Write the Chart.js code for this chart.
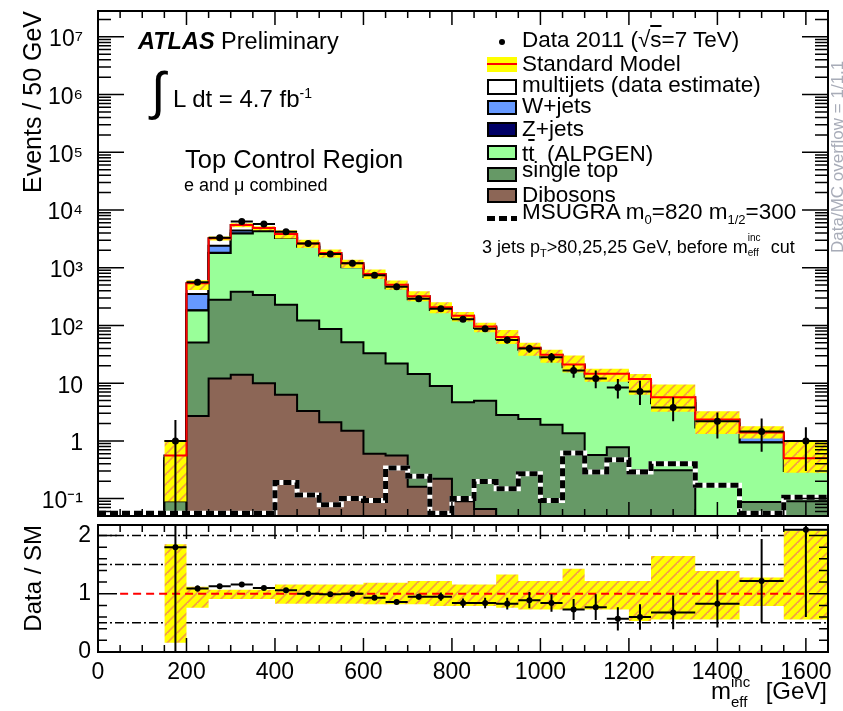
<!DOCTYPE html>
<html>
<head>
<meta charset="utf-8">
<script src="https://cdn.jsdelivr.net/npm/chart.js@4.4.1/dist/chart.umd.min.js"></script>
<style>
  body { margin: 0; background: #fff; }
  #wrap { position: relative; width: 843px; height: 711px; overflow: hidden; background: #fff;
          font-family: "Liberation Sans", Arial, sans-serif; color: #000; }
  .box { position: absolute; }
  .t { position: absolute; white-space: nowrap; line-height: 1; }
  .lg { position: absolute; left: 522px; font-size: 22.5px; white-space: nowrap; line-height: 1; }
  .sw { position: absolute; left: 487px; width: 26px; border: 2px solid #000; }
  .lo { position: relative; top: 5px; font-size: 13px; }
  .hi { position: relative; top: -9px; font-size: 13px; }
</style>
</head>
<body>
<div id="wrap">
  <div class="box" style="left:0;top:0;width:843px;height:520px"><canvas id="mainChart"></canvas></div>
  <div class="box" style="left:0;top:520px;width:843px;height:191px"><canvas id="ratioChart"></canvas></div>

  <!-- annotations -->
  <div class="t" style="left:138px;top:30px;font-size:23.5px"><b><i>ATLAS</i></b> Preliminary</div>
  <div class="t" style="left:151px;top:65px;font-size:52px">∫</div>
  <div class="t" style="left:173px;top:87px;font-size:24px">L dt = 4.7 fb<span class="hi" style="font-size:14px">-1</span></div>
  <div class="t" style="left:185px;top:147px;font-size:25.5px">Top Control Region</div>
  <div class="t" style="left:184px;top:176px;font-size:18px">e and μ combined</div>

  <!-- legend -->
  <div class="box" style="left:499px;top:39px;width:6px;height:6px;border-radius:3px;background:#000"></div>
  <div class="lg" style="top:29px">Data 2011 (√<span style="text-decoration:overline">s</span>=7 TeV)</div>
  <div class="box" style="left:487px;top:57px;width:30px;height:15px;background:#ffff00"></div>
  <div class="box" style="left:487px;top:63px;width:30px;height:2px;background:#ff0000"></div>
  <div class="lg" style="top:53px">Standard Model</div>
  <div class="sw" style="top:79px;height:12px;background:#fff"></div>
  <div class="lg" style="top:74px">multijets (data estimate)</div>
  <div class="sw" style="top:100px;height:11px;background:#6699ff"></div>
  <div class="lg" style="top:95px">W+jets</div>
  <div class="sw" style="top:122px;height:11px;background:#000066"></div>
  <div class="lg" style="top:118px">Z+jets</div>
  <div class="sw" style="top:145px;height:11px;background:#99ff99"></div>
  <div class="lg" style="top:143px">t<span style="text-decoration:overline">t</span>&nbsp; (ALPGEN)</div>
  <div class="sw" style="top:167px;height:11px;background:#669966"></div>
  <div class="lg" style="top:159px">single top</div>
  <div class="sw" style="top:188px;height:11px;background:#8c6656"></div>
  <div class="lg" style="top:184px">Dibosons</div>
  <div class="box" style="left:487px;top:216px;width:30px;height:5px;background:repeating-linear-gradient(90deg,#000 0 8px,transparent 8px 12px)"></div>
  <div class="lg" style="top:201px">MSUGRA m<span class="lo">0</span>=820 m<span class="lo">1/2</span>=300</div>
  <div class="t" style="left:482px;top:238px;font-size:18px">3 jets p<span class="lo" style="font-size:11px;top:4px">T</span>&gt;80,25,25 GeV, before m<span style="display:inline-block;position:relative;top:5px;width:18px;font-size:10px;line-height:10px;vertical-align:top"><span style="display:block;position:relative;top:-10px">inc</span><span style="display:block;position:relative;top:-5px">eff</span></span> cut</div>
  <div class="t" style="left:829px;top:253px;font-size:17px;color:#a8acb8;transform:rotate(-90deg);transform-origin:0 0">Data/MC overflow = 1/1.1</div>

  <!-- x axis title -->
  <div class="t" style="right:16px;top:679px;font-size:24px">m<span style="display:inline-block;width:28px;font-size:15px;line-height:13px;vertical-align:top"><span style="display:block;position:relative;top:-4px">inc</span><span style="display:block;position:relative;top:3px">eff</span></span> [GeV]</div>
</div>

<script>
// ---- data (Events / 50 GeV) ----
const binEdges   = [0,50,100,150,200,250,300,350,400,450,500,550,600,650,700,750,800,850,900,950,1000,1050,1100,1150,1200,1250,1350,1450,1550,1650];
const dibosons   = [0,0,0,0,2.7,12,14,10,6.3,3.3,2.1,1.5,0.6,0.56,0.16,0.22,0.09,0.066,0,0,0,0,0,0,0,0,0,0,0];
const singleTop  = [0,0,0,0.09,48,268,371,327,221,118,85,49.5,32.4,21.4,14.3,8.7,4.6,4.9,2.8,2.4,1.9,1.36,0.57,0.78,0.31,0.31,0,0.087,0.09];
const ttbar      = [0,0,0,0.36,130,1520,3515,3933,3043,2179,1533,969,657,418,270.5,176,130,85,55,35.6,26,17.6,12.4,12.2,10.2,4.2,1.7,0.85,0.21];
const zJets      = [0,0,0,0,2,10,10,8,5,3,2,1.5,1,0.6,0.4,0.3,0.2,0.15,0.1,0.1,0.05,0.04,0.03,0.02,0.02,0.02,0.01,0.01,0.01];
const wJets      = [0,0,0,0.05,168,590,490,222,225,147,78,78.5,39,29.4,14.6,9.7,6.8,3.9,2.9,1.9,2,1,1,1,0.5,0.5,0.3,0.25,0.05];
const multijets  = [0,0,0,0.06,190,850,1100,400,350,190,90,90,50,35,20,11,6,2,2,1,1,1,0.5,0.5,0.8,0.7,0.34,0.2,0.14];
const msugra     = [0,0,0,0,0,0,0,0,0.19,0.116,0.078,0.1,0.093,0.34,0.245,0,0.1,0.197,0.148,0.27,0.093,0.62,0.29,0.47,0.29,0.40,0.17,0,0.106];
const data2011   = [0,0,0,1.0,560,3300,6300,5700,4200,2640,1720,1190,740,470,290,194,128,88,56,40,28,16.5,12,8.4,7.2,3.8,2.2,1.45,1.0];
const dataErrLo  = [0,0,0,0.95,24,57,80,75,65,51,41,34,27,22,17,14,11,9.4,7.5,6.3,5.3,4.1,3.8,3.0,3.0,1.6,1.1,0.8,0.7];
const dataErrHi  = [0,0,0,1.3,24,57,80,75,65,51,41,34,27,22,17,14,11,9.4,7.5,6.3,5.3,4.1,4.5,3.4,3.8,1.9,0.9,1.0,0.73];
// ratio panel
const ratioVals  = [null,null,null,1.80,1.09,1.13,1.16,1.10,1.06,1.0,0.99,1.0,0.93,0.86,0.95,0.95,0.84,0.84,0.83,0.89,0.84,0.73,0.77,0.57,0.60,0.68,0.83,1.22,2.1];
const ratioErr   = [0,0,0,1.9,0.05,0.02,0.015,0.015,0.02,0.02,0.025,0.03,0.035,0.04,0.05,0.07,0.08,0.09,0.1,0.14,0.15,0.18,0.22,0.2,0.22,0.29,0.41,0.72,1.5];
const bandLo     = [0,0,0,0.16,0.76,0.91,0.91,0.91,0.83,0.83,0.83,0.83,0.82,0.82,0.82,0.79,0.79,0.79,0.76,0.73,0.73,0.73,0.73,0.73,0.53,0.56,0.56,0.79,0.56];
const bandHi     = [0,0,0,1.85,1.12,1.07,1.07,1.07,1.16,1.16,1.16,1.16,1.19,1.19,1.22,1.22,1.16,1.16,1.33,1.22,1.22,1.43,1.22,1.22,1.22,1.65,1.39,1.28,2.08];
// axes
const xTickLabels = [0,200,400,600,800,1000,1200,1400,1600];
const mainYTicks  = [0.1,1,10,100,1e3,1e4,1e5,1e6,1e7];
const ratioYTicks = [0,1,2];
const refLevels   = [0.5,1.5,2];
const unityRange  = [50,1600];

const FONT = "'Liberation Sans', Arial, sans-serif";
const X_MIN = 0, X_MAX = 1650;
const Y_MIN = 0.05, Y_MAX = 2.8e7;
const FLOOR = 1e-4;
const FIRST = 3; // first bin with any content

function steps(vals, from = 0) {
    const pts = [];
    for (let i = from; i < vals.length; i++) {
        const v = vals[i] > 0 ? vals[i] : FLOOR;
        pts.push({x: binEdges[i], y: v}, {x: binEdges[i + 1], y: v});
    }
    return pts;
}

function crosses(vals, lo, hi) {
    const pts = [];
    vals.forEach((v, i) => {
        if (v == null || !(v > 0)) return;
        const xc = (binEdges[i] + binEdges[i + 1]) / 2;
        pts.push({x: xc, y: Math.max(v - lo[i], FLOOR)}, {x: xc, y: v + hi[i]}, {x: xc, y: null});
        pts.push({x: binEdges[i], y: v}, {x: binEdges[i + 1], y: v}, {x: binEdges[i + 1], y: null});
    });
    return pts;
}

function centres(vals) {
    const pts = [];
    vals.forEach((v, i) => {
        if (v == null || !(v > 0)) return;
        pts.push({x: (binEdges[i] + binEdges[i + 1]) / 2, y: v});
    });
    return pts;
}

function hatch() {
    const c = document.createElement('canvas');
    c.width = 10; c.height = 10;
    const g = c.getContext('2d');
    g.fillStyle = '#ffff00';
    g.fillRect(0, 0, 10, 10);
    g.fillStyle = '#ffffff';
    g.fillRect(2, 7, 1, 1);
    g.fillRect(7, 3, 1, 1);
    g.strokeStyle = '#f4a040';
    g.lineWidth = 1.6;
    g.beginPath();
    g.moveTo(-2, 12); g.lineTo(12, -2);
    g.moveTo(-2, 2); g.lineTo(2, -2);
    g.moveTo(8, 12); g.lineTo(12, 8);
    g.stroke();
    return g.createPattern(c, 'repeat');
}

// cumulative stack, bottom layer first
const layers = [dibosons, singleTop, ttbar, zJets, wJets, multijets];
const layerColors = ['#8c6656', '#669966', '#99ff99', '#000066', '#6699ff', '#ffffff'];
const stack = [];
let running = dibosons.map(() => 0);
layers.forEach(l => {
    running = running.map((r, i) => r + l[i]);
    stack.push(running);
});
const smTotal = stack[stack.length - 1];

const xMinor = [];
for (let v = X_MIN; v <= X_MAX; v += 50) xMinor.push(v);
const logMinor = [];
for (let e = -2; e <= 7; e++) for (let m = 2; m <= 9; m++) logMinor.push(m * Math.pow(10, e));
const ratioMinor = [];
for (let k = 0; k <= 11; k++) ratioMinor.push(+(k * 0.2).toFixed(1));

// inward ticks on all four sides plus the frame
const frameTicks = {
    id: 'frameTicks',
    afterDatasetsDraw(chart, args, o) {
        const {ctx, chartArea: a, scales} = chart;
        const xs = scales.x, ys = scales.y;
        ctx.save();
        ctx.strokeStyle = '#000';
        ctx.lineWidth = 1.5;
        ctx.beginPath();
        const xt = (vals, len) => vals.forEach(v => {
            const p = xs.getPixelForValue(v);
            if (p < a.left - 0.5 || p > a.right + 0.5) return;
            ctx.moveTo(p, a.bottom); ctx.lineTo(p, a.bottom - len);
            ctx.moveTo(p, a.top); ctx.lineTo(p, a.top + len);
        });
        const yt = (vals, len) => vals.forEach(v => {
            const p = ys.getPixelForValue(v);
            if (p < a.top - 0.5 || p > a.bottom + 0.5) return;
            ctx.moveTo(a.left, p); ctx.lineTo(a.left + len, p);
            ctx.moveTo(a.right, p); ctx.lineTo(a.right - len, p);
        });
        xt(o.xMinor, o.xMinorLen);
        xt(o.xMajor, o.xMajorLen);
        yt(o.yMinor, o.yMinorLen);
        yt(o.yMajor, o.yMajorLen);
        ctx.stroke();
        ctx.lineWidth = 2;
        ctx.strokeRect(a.left, a.top, a.right - a.left, a.bottom - a.top);
        ctx.restore();
    }
};

const sup = {'-': '⁻', '0': '⁰', '1': '¹', '2': '²', '3': '³', '4': '⁴', '5': '⁵', '6': '⁶', '7': '⁷', '8': '⁸', '9': '⁹'};
function powLabel(v) {
    const e = Math.round(Math.log10(v));
    if (e === 0) return '1';
    if (e === 1) return '10';
    return '10' + String(e).split('').map(c => sup[c]).join('');
}

const hatchFill = hatch();
const line = (pts, extra) => Object.assign({data: pts, pointRadius: 0, fill: false, borderWidth: 2, borderColor: '#000'}, extra);

function createMainChart() {
    const datasets = [
        line(centres(data2011), {showLine: false, pointRadius: 3.5, pointBackgroundColor: '#000', pointBorderWidth: 0, order: 0}),
        line(crosses(data2011, dataErrLo, dataErrHi), {spanGaps: false, order: 1}),
        line(steps(msugra.map(v => Math.max(v, Y_MIN * 1.12))), {borderWidth: 5, borderDash: [8, 4], order: 2}),
        line(steps(msugra.map(v => Math.max(v, Y_MIN * 1.12))), {borderWidth: 5, borderColor: '#fff', order: 3}),
        line(steps(smTotal, FIRST), {borderColor: '#ff0000', order: 4}),
        line(steps(smTotal.map((v, i) => v * bandHi[i]), FIRST), {borderColor: 'transparent', borderWidth: 0, backgroundColor: hatchFill, fill: {target: 6}, order: 5}),
        line(steps(smTotal.map((v, i) => v * bandLo[i]), FIRST), {borderColor: 'transparent', borderWidth: 0, order: 5}),
    ];
    stack.forEach((cum, k) => {
        datasets.push(line(steps(cum), {backgroundColor: layerColors[k], fill: 'start', order: 6 + k}));
    });

    new Chart(document.querySelector('#mainChart'), {
        type: 'line',
        data: {datasets},
        plugins: [frameTicks],
        options: {
            responsive: true,
            maintainAspectRatio: false,
            animation: false,
            layout: {padding: {top: 11, right: 15, bottom: 3, left: 0}},
            plugins: {
                legend: {display: false},
                tooltip: {enabled: false},
                frameTicks: {xMajor: xTickLabels, xMinor: xMinor, xMajorLen: 14, xMinorLen: 7,
                             yMajor: mainYTicks, yMinor: logMinor, yMajorLen: 26, yMinorLen: 13}
            },
            scales: {
                x: {type: 'linear', min: X_MIN, max: X_MAX, display: false},
                y: {
                    type: 'logarithmic', min: Y_MIN, max: Y_MAX,
                    afterBuildTicks: s => { s.ticks = mainYTicks.map(v => ({value: v})); },
                    afterFit: s => { s.width = 98; s.paddingTop = 0; s.paddingBottom = 0; },
                    grid: {display: false},
                    border: {display: false},
                    ticks: {callback: v => powLabel(v), autoSkip: false, padding: 7, labelOffset: 3,
                            color: '#000', font: {family: FONT, size: 23}},
                    title: {display: true, text: 'Events / 50 GeV', align: 'end', color: '#000',
                            font: {family: FONT, size: 25}, padding: {top: 19, bottom: 0}}
                }
            }
        }
    });
}

function createRatioChart() {
    const datasets = [
        line(centres(ratioVals), {showLine: false, pointRadius: 3, pointBackgroundColor: '#000', pointBorderWidth: 0, order: 0}),
        line(crosses(ratioVals, ratioErr, ratioErr), {spanGaps: false, order: 1}),
        line(unityRange.map(x => ({x, y: 1})), {borderColor: '#ff0000', borderDash: [8, 5], order: 2}),
        line(steps(bandHi, FIRST), {borderColor: 'transparent', borderWidth: 0, backgroundColor: hatchFill, fill: {target: 4}, order: 3}),
        line(steps(bandLo, FIRST), {borderColor: 'transparent', borderWidth: 0, order: 3}),
    ];
    refLevels.forEach(r => {
        datasets.push(line([{x: X_MIN, y: r}, {x: X_MAX, y: r}], {borderWidth: 1.5, borderDash: [9, 3, 2, 3], order: 5}));
    });

    new Chart(document.querySelector('#ratioChart'), {
        type: 'line',
        data: {datasets},
        plugins: [frameTicks],
        options: {
            responsive: true,
            maintainAspectRatio: false,
            animation: false,
            layout: {padding: {top: 5, right: 15, bottom: 0, left: 0}},
            plugins: {
                legend: {display: false},
                tooltip: {enabled: false},
                frameTicks: {xMajor: xTickLabels, xMinor: xMinor, xMajorLen: 14, xMinorLen: 7,
                             yMajor: ratioYTicks, yMinor: ratioMinor, yMajorLen: 19, yMinorLen: 9}
            },
            scales: {
                x: {
                    type: 'linear', min: X_MIN, max: X_MAX,
                    afterBuildTicks: s => { s.ticks = xTickLabels.map(v => ({value: v})); },
                    afterFit: s => { s.height = 59; },
                    grid: {display: false, drawTicks: false},
                    border: {display: false},
                    ticks: {callback: v => String(v), autoSkip: false, maxRotation: 0, padding: 7,
                            color: '#000', font: {family: FONT, size: 23}}
                },
                y: {
                    type: 'linear', min: 0, max: 2.18,
                    afterBuildTicks: s => { s.ticks = ratioYTicks.map(v => ({value: v})); },
                    afterFit: s => { s.width = 98; s.paddingTop = 0; s.paddingBottom = 0; },
                    grid: {display: false, drawTicks: false},
                    border: {display: false},
                    ticks: {autoSkip: false, padding: 7, color: '#000', font: {family: FONT, size: 23}},
                    title: {display: true, text: 'Data / SM', align: 'end', color: '#000',
                            font: {family: FONT, size: 24}, padding: {top: 20, bottom: 0}}
                }
            }
        }
    });
}

createMainChart();
createRatioChart();
</script>
</body>
</html>
